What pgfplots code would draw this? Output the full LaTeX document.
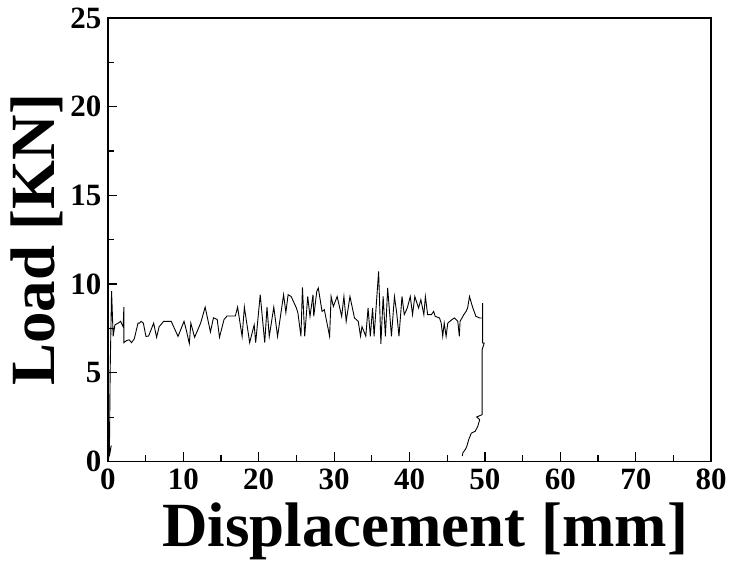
\documentclass[border=0pt]{standalone}
\usepackage{fontspec}
\setmainfont{Liberation Serif}
\usepackage{pgfplots}
\pgfplotsset{compat=1.18}
\begin{document}
\begin{tikzpicture}
\begin{axis}[
  scale only axis, width=604pt, height=444pt,
  xmin=0, xmax=80, ymin=0, ymax=25,
  xtick={0,10,...,80}, ytick={0,5,...,25},
  minor x tick num=1, minor y tick num=1,
  tick align=inside, xtick pos=left, ytick pos=left,
  major tick length=9pt, minor tick length=6pt,
  axis line style={line width=1.6pt},
  every tick/.style={line width=1.2pt, black},
  /pgf/number format/assume math mode=true,
  ticklabel style={font=\bfseries\fontsize{31}{31}\selectfont},
  xticklabel style={yshift=-4pt},
  yticklabel style={xshift=-3pt},
  xlabel={Displacement [mm]},
  ylabel={Load [KN]},
  xlabel style={font=\bfseries\fontsize{63}{63}\selectfont, at={(axis description cs:0.526,-0.158)}, anchor=center},
  ylabel style={font=\bfseries\fontsize{63}{63}\selectfont, at={(axis description cs:-0.118,0.5)}, anchor=center, rotate=0},
]
\addplot[black, line width=0.9pt] coordinates {
(0,0) (0.45,0.9) (0.2,0.3) (0.3,5) (0.49,9.6) (0.7,7.06) (0.93,7.7) (1.37,7.8) (1.68,7.9) (2.03,7.6)
(2.12,8.7) (2.12,6.7) (2.47,6.81) (2.82,6.86) (3.13,6.7) (3.49,6.9) (4.0,7.8) (4.2,7.8) (4.4,7.9) (4.7,7.8)
(5.05,7.05) (5.4,7.07) (6.07,7.8) (6.46,7.0) (6.8,7.6) (7.4,7.9) (8.4,7.9) (9.3,7.05) (10.1,7.9) (10.4,7.4)
(10.8,6.65) (11.0,7.8) (11.5,7.0) (12.3,7.8) (12.9,8.7) (13.6,7.3) (14.0,8.1) (14.5,8.0) (14.8,7.0) (15.4,8.0)
(15.8,8.2) (16.9,8.2) (17.2,8.7) (17.8,7.05) (18.1,8.7) (18.8,6.7) (19.4,7.7) (19.6,6.7) (20.2,9.4) (20.8,6.7)
(21.1,8.7) (21.4,7.05) (22.0,8.7) (22.5,7.05) (23.3,9.4) (23.6,8.4) (23.9,9.4) (24.3,9.3) (25.0,8.65) (25.2,8.37)
(25.6,7.06) (25.8,9.82) (26.1,7.06) (26.5,9.3) (26.8,8.18) (27.2,9.4) (27.3,8.18) (27.7,9.59) (27.9,9.78) (28.4,8.46)
(28.7,8.56) (29.4,7.06) (29.6,9.3) (29.9,8.74) (30.4,9.3) (31.0,8.18) (31.3,9.3) (31.6,7.9) (32.1,9.3) (32.7,8.09)
(33.2,7.9) (33.5,7.06) (33.7,7.6) (34.2,7.06) (34.5,8.65) (34.8,7.06) (35.1,8.65) (35.3,7.06) (35.9,10.72) (36.2,6.63)
(36.5,9.3) (36.8,7.06) (37.1,9.78) (37.6,7.06) (38.0,9.3) (38.3,8.37) (38.6,7.06) (39.0,9.3) (39.3,8.28) (39.7,8.65)
(40.1,9.3) (40.4,8.28) (40.7,9.3) (41.2,8.65) (41.5,9.12) (41.9,8.28) (42.1,9.3) (42.4,8.28) (42.9,8.28) (43.2,8.46)
(43.4,8.18) (43.97,8.09) (44.2,7.8) (44.4,7.06) (44.6,7.8) (44.85,7.06) (45.07,7.8) (45.6,7.99) (45.96,8.09) (46.4,7.9)
(46.6,7.06) (46.7,7.9) (47.2,8.28) (47.5,8.46) (47.7,8.65) (47.95,9.3) (48.2,8.93) (48.4,8.65) (48.8,8.18) (49.3,8.09)
(49.7,8.09) (49.7,8.93) (49.7,6.68) (49.9,6.68) (49.63,6.3) (49.63,2.64) (48.9,2.51) (49.3,2.36) (49.05,1.98) (48.7,1.7)
(48.2,1.6) (47.85,1.24) (47.6,0.86) (47.4,0.68) (47.07,0.49) (47.0,0.3)
};
\end{axis}
\path ([xshift=-108pt,yshift=-96pt]current axis.south west) coordinate (bl);
\path (bl) rectangle ++(730pt,558pt);
\end{tikzpicture}
\end{document}
